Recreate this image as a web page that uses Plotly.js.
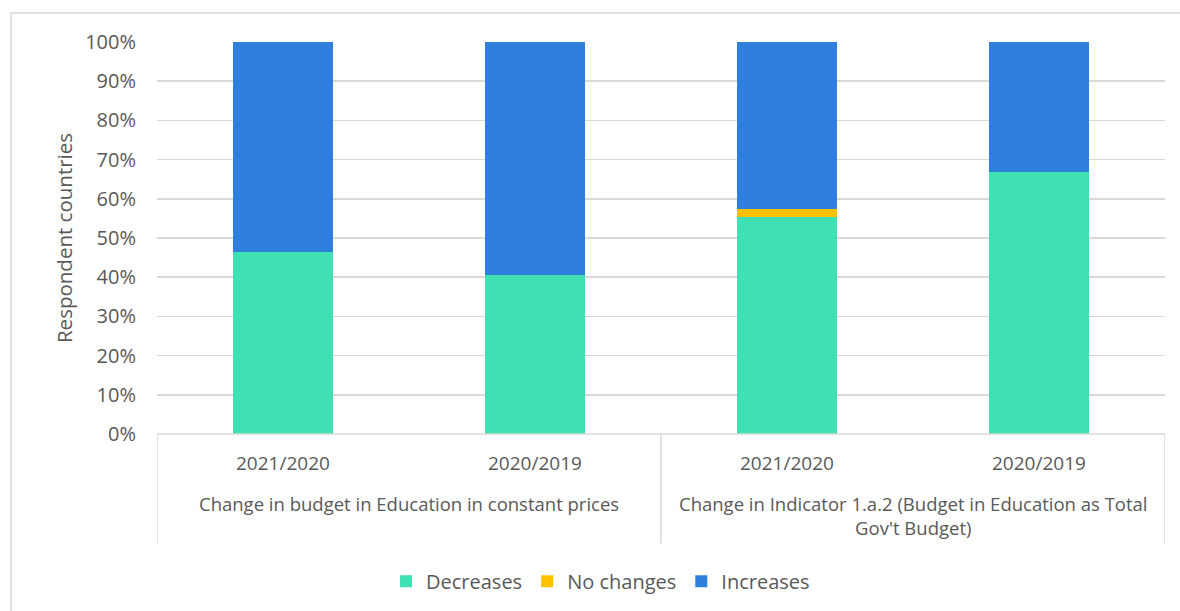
<!DOCTYPE html>
<html>
<head>
<meta charset="utf-8">
<script src="https://cdn.plot.ly/plotly-3.0.1.min.js"></script>
<style>
html,body{margin:0;padding:0;background:#fff;}
#chart{width:1180px;height:611px;}
</style>
</head>
<body>
<div id="chart"></div>
<script>
const periods = ["2021/2020", "2020/2019", "2021/2020", "2020/2019"];
const groups = ["Change in budget in Education in constant prices",
                "Change in Indicator 1.a.2 (Budget in Education as Total<br>Gov't Budget)"];
const groupOf = [0, 0, 1, 1];
const decreases = [0.465, 0.405, 0.553, 0.669];
const noChanges = [0, 0, 0.021, 0];
const increases = [0.535, 0.595, 0.426, 0.331];
const seriesNames = ["Decreases", "No changes", "Increases"];
const seriesColors = ["#40DFB4", "#FFC000", "#2F80DD"];

const xs = periods.map((_, i) => i);
const font = "Open Sans, Noto Sans, sans-serif";
const textColor = "#595959";

const traces = [decreases, noChanges, increases].map((vals, k) => ({
  type: "bar",
  x: xs,
  y: vals,
  name: seriesNames[k],
  marker: {color: seriesColors[k], line: {width: 0}},
  hoverinfo: "skip"
}));

const annotations = [];
periods.forEach((p, i) => {
  annotations.push({
    x: i, xref: "x", y: 0, yref: "paper", yanchor: "top", yshift: -14,
    text: p, showarrow: false, font: {family: font, size: 19, color: textColor}
  });
});
groups.forEach((g, gi) => {
  const members = xs.filter(i => groupOf[i] === gi);
  const center = (members[0] + members[members.length - 1]) / 2;
  annotations.push({
    x: center, xref: "x", y: 0, yref: "paper", yanchor: "top", yshift: -55,
    text: g, showarrow: false, align: "center",
    font: {family: font, size: 18.5, color: textColor}
  });
});

const lineColor = "#D9D9D9";
const shapes = [];
shapes.push({type: "line", xref: "paper", yref: "paper", x0: 0, x1: 1, y0: 0, y1: 0,
  line: {color: lineColor, width: 1.5}});
const boundaries = [-0.5, 1.5, 3.5];
boundaries.forEach(b => {
  shapes.push({type: "line", xref: "x", yref: "paper", x0: b, x1: b, y0: 0, y1: -110/393,
    line: {color: lineColor, width: 1.5}});
});
shapes.push({type: "path", xref: "paper", yref: "paper",
  path: "M -0.1448,-0.47 L -0.1448,1.0738 L 1.05,1.0738",
  line: {color: lineColor, width: 1.5}});

const layout = {
  width: 1180, height: 611,
  margin: {l: 157, r: 15, t: 42, b: 176},
  paper_bgcolor: "#fff", plot_bgcolor: "#fff",
  barmode: "stack",
  bargap: 0.6,
  showlegend: true,
  legend: {orientation: "h", x: 0.44, xanchor: "center", y: -0.372, yanchor: "middle",
    font: {family: font, size: 20, color: textColor}, traceorder: "normal"},
  xaxis: {range: [-0.5, 3.5], showticklabels: false, showgrid: false, zeroline: false,
    showline: false, ticks: ""},
  yaxis: {range: [0, 1], tickformat: ".0%", dtick: 0.1, showgrid: true,
    gridcolor: lineColor, gridwidth: 1.5, zeroline: false, showline: false,
    ticks: "", ticklen: 0, automargin: false, ticklabelstandoff: 20,
    tickfont: {family: font, size: 20, color: textColor},
    title: {text: "Respondent countries", standoff: 6,
      font: {family: font, size: 20.5, color: textColor}}},
  annotations: annotations,
  shapes: shapes
};

Plotly.newPlot("chart", traces, layout, {displayModeBar: false, staticPlot: true});
</script>
</body>
</html>
